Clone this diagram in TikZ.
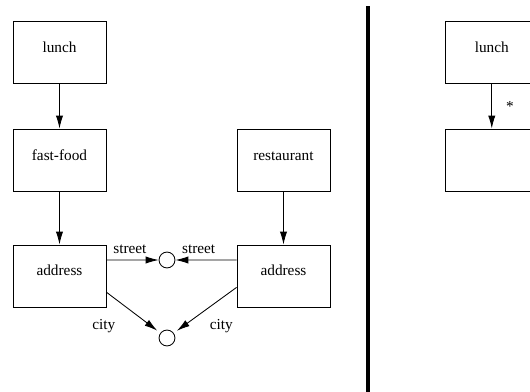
\documentclass[tikz,border=0pt]{standalone}
\usepackage{fontspec}
\setmainfont{Liberation Serif}
\usetikzlibrary{arrows.meta}

\begin{document}
\begin{tikzpicture}[
    every node/.style={font=\fontsize{14.5}{17}\selectfont},
    box/.style={draw, line width=0.8pt, minimum width=3.1cm, minimum height=2.07cm,
                text height=0.35cm, text depth=0.35cm},
    dot/.style={draw, circle, line width=0.8pt, minimum size=0.53cm, inner sep=0pt},
    link/.style={line width=0.8pt, -{Latex[length=4.3mm, width=2.4mm]}}
  ]

  \useasboundingbox (0,0) rectangle (17.667,13.067);
  \clip (0,0) rectangle (17.667,13.067);

  % Boites (fast-food / restaurant)
  \node[box] (lunchL) at (1.983,11.333) {lunch};
  \node[box] (fastfood) at (1.983,7.733) {fast-food};
  \node[box] (addrL) at (1.983,3.867) {address};
  \node[box] (restaurant) at (9.45,7.733) {restaurant};
  \node[box] (addrR) at (9.45,3.867) {address};

  % Valeurs partagees
  \node[dot] (street) at (5.567,4.4) {};
  \node[dot] (city) at (5.567,1.8) {};

  % Fleches verticales
  \draw[link] (lunchL) -- (fastfood);
  \draw[link] (fastfood) -- (addrL);
  \draw[link] (restaurant) -- (addrR);

  % Attributs street et city
  \draw[link] ([yshift=0.533cm]addrL.east) -- (street)
    node[pos=0.45, above=0.07cm] {street};
  \draw[link] ([yshift=0.533cm]addrR.west) -- (street)
    node[pos=0.62, above=0.07cm] {street};
  \draw[link, shorten >=0.13cm] ([yshift=-0.54cm]addrL.east) -- (city)
    node[pos=1, anchor=base east, xshift=-1.37cm, yshift=0.12cm] {city};
  \draw[link, shorten >=0.13cm] ([yshift=-0.38cm]addrR.west) -- (city)
    node[pos=1, anchor=base west, xshift=1.07cm, yshift=0.12cm] {city};

  % Separation
  \draw[line width=3pt] (12.267,0) -- (12.267,12.867);

  % Cas general
  \node[box] (lunchR) at (16.393,11.333) {lunch};
  \node[box] (anyfood) at (16.393,7.733) {};
  \draw[link] (lunchR) -- (anyfood) node[midway, right=0.35cm] {*};

\end{tikzpicture}
\end{document}
